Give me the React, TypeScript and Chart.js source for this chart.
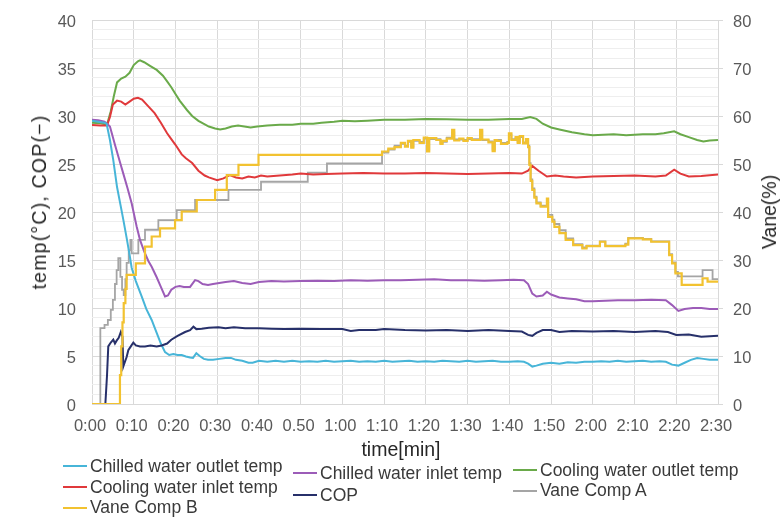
import React, { useEffect, useRef } from 'react';
import { Chart, registerables } from 'chart.js';

Chart.register(...registerables);

// ---- axis ticks ----
const X_TICKS = [0, 10, 20, 30, 40, 50, 60, 70, 80, 90, 100, 110, 120, 130, 140, 150];
const X_LABELS = ['0:00', '0:10', '0:20', '0:30', '0:40', '0.50', '1:00', '1:10', '1:20', '1:30', '1:40', '1:50', '2:00', '2:10', '2:20', '2:30'];

// ---- series: [time (min), value] ----
const CHILLED_OUT: [number, number][] = [
  [0, 29.5], [1.5, 29.4], [3, 29.3], [3.5, 29.2], [4.3, 27.5], [5.1, 25.4], [6, 22.6], [6.8, 20.8], [7.5, 19.2], [8.3, 17.3],
  [9.1, 15.3], [9.5, 14.2], [10.5, 12.8], [11.9, 11.2], [13, 9.9], [14.3, 8.75], [15.5, 7.4], [16.5, 6.3], [17.5, 5.4], [18.5, 5.1],
  [19.5, 5.2], [20.5, 5.1], [21.5, 5.1], [22.5, 4.95], [23.5, 4.85], [24.2, 4.8], [25, 5.3], [25.8, 5.0], [26.8, 4.7], [27.8, 4.6],
  [29, 4.6], [30.5, 4.7], [32, 4.8], [33.3, 4.8], [34.5, 4.6], [36, 4.5], [37.5, 4.3], [38.5, 4.3], [40, 4.5], [42, 4.4],
  [44, 4.5], [46, 4.4], [48, 4.5], [50, 4.4], [52, 4.45], [54, 4.4], [56, 4.5], [58, 4.4], [60, 4.45], [62, 4.5],
  [64, 4.4], [66, 4.45], [68, 4.4], [70, 4.5], [72, 4.4], [74, 4.45], [76, 4.5], [78, 4.4], [80, 4.45], [82, 4.4],
  [84, 4.5], [86, 4.45], [88, 4.4], [90, 4.5], [92, 4.4], [94, 4.45], [96, 4.5], [98, 4.4], [100, 4.4], [102, 4.45],
  [103.5, 4.4], [104.5, 4.2], [105.5, 3.9], [106.5, 4.0], [108, 4.2], [110, 4.3], [112, 4.2], [114, 4.35], [116, 4.3], [118, 4.4],
  [120, 4.4], [122, 4.45], [124, 4.4], [126, 4.5], [128, 4.4], [130, 4.45], [132, 4.5], [134, 4.4], [136, 4.45], [137.5, 4.4],
  [139, 4.1], [140.5, 4.0], [142, 4.3], [143.5, 4.6], [145, 4.8], [146.5, 4.7], [148, 4.6], [150, 4.6],
];

const CHILLED_IN: [number, number][] = [
  [0, 29.6], [1.5, 29.55], [3, 29.4], [3.6, 29.2], [4.3, 28.9], [5.5, 27], [6.5, 25.5], [7.5, 24], [8.5, 22.5], [9.5, 20.9],
  [10.7, 18.5], [11.5, 17.1], [12.5, 15.9], [13.5, 14.9], [14.3, 14.3], [15.5, 13.2], [16.5, 12.2], [17.5, 11.2], [18.2, 11.3], [19, 11.9],
  [20, 12.2], [21, 12.3], [22, 12.2], [23.5, 12.2], [24.7, 12.9], [25.5, 12.8], [26.5, 12.5], [27.8, 12.4], [29, 12.5], [30.5, 12.6],
  [32, 12.7], [34, 12.8], [36, 12.6], [38, 12.5], [40, 12.7], [43, 12.8], [46, 12.75], [50, 12.8], [54, 12.85], [58, 12.8],
  [62, 12.9], [66, 12.85], [70, 12.9], [74, 12.9], [78, 12.95], [82, 13.0], [86, 12.9], [90, 12.9], [94, 12.85], [98, 12.9],
  [101, 12.95], [103.5, 12.9], [104.5, 12.5], [105.5, 11.5], [106.5, 11.2], [108, 11.3], [109, 11.7], [110, 11.4], [112, 11.1], [114, 11.0],
  [116, 10.9], [118, 10.7], [120, 10.7], [123, 10.75], [126, 10.8], [130, 10.8], [134, 10.85], [137.5, 10.8], [139, 10.3], [140.5, 9.7],
  [142, 9.9], [144, 10.0], [146, 10.0], [148, 9.9], [150, 9.9],
];

const COOLING_IN: [number, number][] = [
  [0, 29.05], [2, 29.0], [3.6, 29.0], [4.3, 29.9], [5, 31.2], [6, 31.6], [7, 31.5], [8, 31.2], [9, 31.5], [10, 31.8],
  [11, 31.9], [12, 31.7], [13.5, 31.0], [15, 30.3], [16.5, 29.3], [18, 28.2], [19, 27.6], [20, 27.0], [21.5, 26.0], [22.5, 25.6],
  [24, 25.1], [25.5, 24.3], [27, 23.8], [28, 23.6], [30, 23.3], [31.5, 23.5], [33, 23.85], [34.5, 23.6], [36, 23.5], [37.5, 23.7],
  [39, 23.6], [40.5, 23.8], [42, 23.7], [45, 23.8], [48, 23.9], [50, 24.0], [53, 23.9], [56, 23.95], [60, 24.0], [65, 24.05],
  [70, 24.0], [75, 24.0], [80, 24.05], [85, 24.0], [90, 23.95], [95, 24.0], [100, 24.05], [103, 24.0], [104.5, 24.3], [105.5, 24.8],
  [107, 24.3], [109, 23.7], [111, 23.8], [113, 23.7], [116, 23.6], [120, 23.7], [125, 23.75], [130, 23.8], [135, 23.7], [137.5, 23.8],
  [139.5, 24.4], [141, 24.0], [143, 23.7], [146, 23.75], [150, 23.9],
];

const COOLING_OUT: [number, number][] = [
  [0, 29.3], [2, 29.25], [3.6, 29.1], [4.5, 30.5], [5.2, 32.0], [6, 33.5], [7, 33.9], [8, 34.1], [9, 34.5], [10, 35.3],
  [11, 35.7], [11.5, 35.8], [12.5, 35.6], [14, 35.2], [15.5, 34.8], [17, 34.2], [18, 33.6], [19, 33.0], [20, 32.3], [21, 31.6],
  [22.8, 30.6], [24, 30.0], [25.5, 29.5], [26.7, 29.2], [28, 28.9], [29.5, 28.7], [30.7, 28.6], [32, 28.7], [33.5, 28.9], [35, 29.0],
  [36.5, 28.9], [38, 28.8], [39.6, 28.9], [42, 29.0], [45, 29.1], [48, 29.1], [50, 29.2], [53, 29.2], [55, 29.3], [58, 29.4],
  [60, 29.5], [63, 29.45], [66, 29.5], [70, 29.6], [75, 29.6], [80, 29.7], [85, 29.65], [90, 29.6], [95, 29.6], [100, 29.7],
  [103, 29.7], [105, 29.9], [106.5, 29.7], [108, 29.2], [110, 28.8], [112, 28.6], [115, 28.3], [118, 28.1], [120, 28.0], [125, 28.1],
  [128, 28.0], [132, 28.1], [135, 28.1], [137, 28.2], [139.5, 28.4], [141, 28.1], [143, 27.8], [145, 27.5], [146.5, 27.35], [148, 27.45],
  [150, 27.5],
];

const COP: [number, number][] = [
  [0, 0], [3.2, 0], [3.6, 3.0], [3.9, 6.0], [4.5, 6.4], [5.1, 6.7], [5.5, 6.3], [5.9, 6.6], [6.4, 6.9], [6.9, 7.5],
  [7.3, 7.0], [7.5, 3.9], [7.9, 4.4], [8.3, 4.9], [8.7, 5.6], [9.3, 6.0], [9.9, 6.4], [10.5, 6.1], [11.5, 6.0], [12.7, 6.0],
  [14, 6.1], [15.5, 6.0], [16.7, 6.1], [18, 6.3], [19, 6.7], [20.5, 7.1], [22.3, 7.5], [23.5, 7.7], [24.3, 8.05], [25, 7.8],
  [26.3, 7.85], [28, 7.95], [30.3, 8.0], [32, 7.9], [34, 8.0], [36.7, 7.9], [40, 7.9], [43, 7.85], [46, 7.8], [50, 7.85],
  [55, 7.8], [60, 7.8], [62, 7.6], [64, 7.7], [68, 7.7], [70, 7.8], [75, 7.7], [80, 7.65], [85, 7.7], [90, 7.6],
  [95, 7.7], [100, 7.6], [103, 7.55], [104.5, 7.2], [105.5, 7.1], [106.5, 7.4], [108, 7.7], [110, 7.7], [112, 7.5], [115, 7.6],
  [120, 7.55], [125, 7.6], [130, 7.5], [135, 7.6], [138, 7.5], [140, 7.2], [143, 7.25], [146, 7.0], [148, 7.05], [150, 7.1],
];

// vane opening (%), each value starts at its time and holds until the next one
const VANE_B: [number, number][] = [
  [0, 0], [6.7, 6], [7.0, 12], [7.3, 17], [7.6, 21], [8.0, 24], [8.3, 26.9], [10.5, 29.3], [12.7, 32.8], [14.3, 34.9],
  [16.3, 36.6], [19.9, 38.3], [21.5, 40.1], [25.1, 42.5], [29.5, 44.6], [32.3, 47.7], [35.1, 49.8], [39.9, 51.9], [69.5, 52.6], [71, 53.2],
  [72.5, 53.5], [74, 54.4], [75, 53.6], [75.7, 54.8], [76.5, 53.4], [77, 55.0], [78.5, 54.4], [79.5, 55.5], [80.3, 52.6], [80.8, 55.4],
  [82.5, 55.0], [83.5, 54.2], [84, 54.8], [85, 55.3], [86.3, 57.1], [86.8, 54.9], [88, 55.3], [89, 54.8], [90, 55.4], [91, 55.0],
  [93, 57.1], [93.5, 55.1], [95, 54.5], [96, 52.7], [96.5, 55.0], [97, 54.8], [98, 54.2], [99.5, 54.4], [99.9, 56.4], [100.5, 55.0],
  [101.5, 55.6], [102, 54.4], [102.5, 55.8], [103.3, 54.3], [104, 55.2], [104.5, 53.5], [104.8, 49.8], [105.1, 46.5], [105.5, 44.6], [106, 43.0],
  [106.5, 41.8], [107.5, 41.1], [109, 42.8], [109.3, 39.0], [110.3, 38.0], [110.8, 36.9], [112, 35.6], [113.5, 34.2], [115.3, 33.1], [117.5, 32.4],
  [118.5, 32.9], [121.7, 33.8], [123, 32.9], [127.8, 33.2], [128.5, 34.5], [132, 34.3], [134, 33.8], [138.3, 31.0], [139, 29.3], [139.8, 27.2],
  [141.3, 24.8], [146.3, 26.2], [147.5, 25.5], [150, 25.5],
];

const VANE_A: [number, number][] = [
  [0, 0], [2.0, 15.8], [3.0, 16.5], [3.8, 17.5], [4.5, 19.6], [5.0, 21.7], [5.5, 25.0], [5.9, 27.9], [6.3, 30.4], [6.8, 26.5],
  [7.2, 23.8], [7.6, 22.7], [8.0, 26.0], [8.3, 29.4], [8.8, 32.0], [9.2, 34.2], [9.5, 31.4], [11.1, 34.2], [12.7, 36.3], [15.9, 38.3],
  [20.3, 40.4], [24.7, 42.5], [32.7, 44.6], [40.5, 46.3], [51.7, 48.2], [56.3, 50.1], [69.5, 52.4], [71, 53.0], [72.5, 53.8], [74, 54.2],
  [75, 53.8], [75.7, 54.6], [76.5, 53.6], [77, 54.8], [78.5, 54.6], [79.5, 55.3], [80.3, 53.0], [80.8, 55.2], [82.5, 55.2], [83.5, 54.4],
  [84, 54.6], [85, 55.5], [86.3, 56.6], [86.8, 55.1], [88, 55.1], [89, 55.0], [90, 55.2], [91, 55.2], [93, 56.8], [93.5, 55.0],
  [95, 54.7], [96, 53.0], [96.5, 55.0], [97, 55.0], [98, 54.4], [99.5, 54.6], [99.9, 56.0], [100.5, 55.2], [101.5, 55.4], [102, 54.6],
  [102.5, 55.6], [103.3, 54.5], [104, 55.0], [104.5, 53.8], [104.8, 50.2], [105.1, 46.8], [105.5, 44.9], [106, 43.2], [106.5, 42.0], [107.5, 41.3],
  [109, 42.6], [109.3, 39.4], [110.3, 38.4], [110.8, 37.5], [112, 36.2], [113.5, 34.5], [115.3, 33.3], [117.5, 32.6], [118.5, 33.0], [121.7, 33.9],
  [123, 33.0], [127.8, 33.4], [128.5, 34.6], [132, 34.4], [134, 33.9], [138.3, 31.2], [139, 29.5], [139.8, 27.5], [140.4, 26.6], [146.3, 27.9],
  [148.7, 26.0], [150, 26.0],
];

const NAMES = {
  chilledOut: 'Chilled water outlet temp',
  chilledIn: 'Chilled water inlet temp',
  coolingIn: 'Cooling water inlet temp',
  coolingOut: 'Cooling water outlet temp',
  cop: 'COP',
  vaneA: 'Vane Comp A',
  vaneB: 'Vane Comp B',
};

const COLORS = {
  chilledOut: '#47b5d8',
  chilledIn: '#9c5cb8',
  coolingIn: '#e0393b',
  coolingOut: '#6aaa4a',
  cop: '#27306a',
  vaneA: '#a5a5a5',
  vaneB: '#f2c230',
};

const FONT = '"Liberation Sans", Arial, sans-serif';
const MAJOR_GRID = '#d9d9d9';
const MINOR_GRID = '#eeeeee';

const toXY = (pts: [number, number][]) => pts.map(([x, y]) => ({ x, y }));

function line(key: keyof typeof COLORS, pts: [number, number][], axis: string, order: number, extra: any = {}) {
  return {
    label: NAMES[key],
    data: toXY(pts),
    borderColor: COLORS[key],
    backgroundColor: COLORS[key],
    borderWidth: 2,
    pointRadius: 0,
    tension: 0,
    fill: false,
    yAxisID: axis,
    order,
    ...extra,
  };
}

const LEGEND = [
  { key: 'chilledOut', x: 63, y: 466 },
  { key: 'coolingIn', x: 63, y: 487 },
  { key: 'vaneB', x: 63, y: 507.5 },
  { key: 'chilledIn', x: 293, y: 473 },
  { key: 'cop', x: 293, y: 495 },
  { key: 'coolingOut', x: 513, y: 470 },
  { key: 'vaneA', x: 513, y: 490.5 },
] as const;

export default function App() {
  const ref = useRef<HTMLCanvasElement | null>(null);

  useEffect(() => {
    if (!ref.current) return;
    const tickFont = { family: FONT, size: 16.5 };
    const chart = new Chart(ref.current, {
      type: 'line',
      data: {
        datasets: [
          line('vaneA', VANE_A, 'y1', 6, { stepped: true, borderWidth: 1.8 }),
          line('coolingOut', COOLING_OUT, 'y', 5),
          line('coolingIn', COOLING_IN, 'y', 4),
          line('chilledIn', CHILLED_IN, 'y', 3),
          line('chilledOut', CHILLED_OUT, 'y', 2),
          line('cop', COP, 'y', 1),
          line('vaneB', VANE_B, 'y1', 0, { stepped: true, borderWidth: 2.2 }),
        ] as any,
      },
      options: {
        responsive: false,
        maintainAspectRatio: false,
        animation: false,
        devicePixelRatio: 1,
        layout: { padding: { top: 20, left: 0, right: 0, bottom: 0 } },
        plugins: {
          legend: { display: false },
          tooltip: { enabled: false },
        },
        scales: {
          x: {
            type: 'linear',
            min: 0,
            max: 150,
            afterFit: (s: any) => { s.height = 114; },
            afterBuildTicks: (s: any) => { s.ticks = X_TICKS.map((v) => ({ value: v })); },
            ticks: {
              autoSkip: false,
              maxRotation: 0,
              minRotation: 0,
              padding: 13,
              labelOffset: -2,
              font: tickFont,
              color: '#595959',
              callback: (_v: any, i: number) => X_LABELS[i],
            },
            grid: { color: MAJOR_GRID, drawTicks: false, lineWidth: 1 },
            border: { display: false },
          },
          y: {
            type: 'linear',
            position: 'left',
            min: 0,
            max: 40,
            afterFit: (s: any) => { s.width = 92; },
            ticks: {
              stepSize: 1,
              autoSkip: false,
              padding: 0,
              labelOffset: 2,
              font: tickFont,
              color: '#595959',
              callback: (v: any) => (Number(v) % 5 === 0 ? String(v) : ''),
            },
            grid: {
              drawTicks: true,
              tickLength: 16,
              tickColor: 'rgba(0,0,0,0)',
              color: (c: any) => (c.tick && c.tick.value % 5 === 0 ? MAJOR_GRID : MINOR_GRID),
            },
            border: { display: false },
          },
          y1: {
            type: 'linear',
            position: 'right',
            min: 0,
            max: 80,
            afterFit: (s: any) => { s.width = 66; },
            ticks: {
              stepSize: 10,
              autoSkip: false,
              padding: 10,
              labelOffset: 2,
              font: tickFont,
              color: '#595959',
            },
            grid: { drawOnChartArea: false, drawTicks: true, tickLength: 5, color: MAJOR_GRID },
            border: { display: true, color: MAJOR_GRID },
          },
        },
      } as any,
    });
    return () => chart.destroy();
  }, []);

  const titleStyle: React.CSSProperties = {
    position: 'absolute',
    whiteSpace: 'nowrap',
    fontFamily: FONT,
    fontSize: 19.5,
    color: '#262626',
    lineHeight: '22px',
  };

  return (
    <div style={{ position: 'absolute', left: 0, top: 0, width: 784, height: 518, background: '#fff', overflow: 'hidden' }}>
      <canvas ref={ref} width={784} height={518} style={{ position: 'absolute', left: 0, top: 0, width: 784, height: 518 }} />
      <div style={{ ...titleStyle, left: 39, top: 202, letterSpacing: '1.2px', transform: 'translate(-50%, -50%) rotate(-90deg)' }}>
        temp(°C), COP(−)
      </div>
      <div style={{ ...titleStyle, left: 401, top: 449, transform: 'translate(-50%, -50%)' }}>time[min]</div>
      <div style={{ ...titleStyle, left: 769, top: 212, transform: 'translate(-50%, -50%) rotate(-90deg)' }}>Vane(%)</div>
      {LEGEND.map((it) => (
        <div
          key={it.key}
          style={{
            position: 'absolute',
            left: it.x,
            top: it.y - 11,
            height: 22,
            display: 'flex',
            alignItems: 'center',
            whiteSpace: 'nowrap',
            fontFamily: FONT,
            fontSize: 17.5,
            color: '#3a3a3a',
          }}
        >
          <span style={{ display: 'inline-block', width: 24, height: 2, background: COLORS[it.key], marginRight: 3 }} />
          <span>{NAMES[it.key]}</span>
        </div>
      ))}
    </div>
  );
}
